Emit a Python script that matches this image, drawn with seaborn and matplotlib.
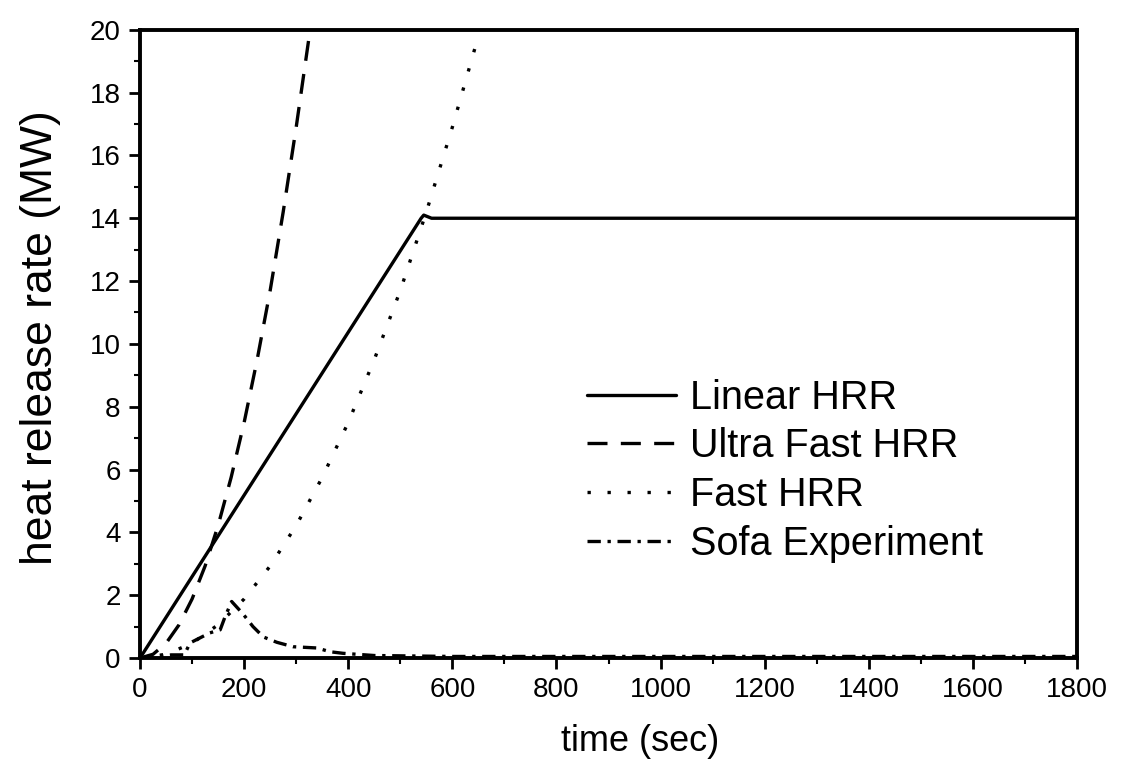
import matplotlib
matplotlib.use("Agg")
import matplotlib.pyplot as plt
import pandas as pd
import seaborn as sns

# values
linear_t = [0, 540, 545, 560, 1800]
linear_q = [0, 14.0, 14.1, 14.0, 14.0]

ultra_t = [0, 25, 50, 75, 100, 125, 150, 175, 200, 225, 250, 275, 300, 325]
ultra_q = [0, 0.12, 0.47, 1.06, 1.88, 2.93, 4.22, 5.75, 7.5, 9.5, 11.7, 14.2, 16.9, 19.8]

fast_t = [0, 50, 100, 150, 200, 250, 300, 350, 400, 450, 500, 550, 600, 650]
fast_q = [0, 0.12, 0.47, 1.06, 1.88, 2.93, 4.22, 5.75, 7.5, 9.5, 11.7, 14.2, 16.9, 19.8]

sofa_t = [0, 30, 60, 85, 96, 115, 134, 154, 163, 176, 198, 217, 237, 263, 294,
          340, 365, 390, 450, 600, 900, 1200, 1500, 1800]
sofa_q = [0, 0.05, 0.1, 0.1, 0.48, 0.64, 0.8, 0.9, 1.3, 1.8, 1.4, 1.0, 0.67, 0.5,
          0.36, 0.32, 0.2, 0.15, 0.08, 0.05, 0.05, 0.05, 0.05, 0.05]

series = [
    ("Linear HRR", linear_t, linear_q, "-"),
    ("Ultra Fast HRR", ultra_t, ultra_q, (0, (6, 4))),
    ("Fast HRR", fast_t, fast_q, (0, (1, 5))),
    ("Sofa Experiment", sofa_t, sofa_q, (0, (4, 2, 1, 2))),
]

sns.set_theme(style="ticks")
plt.rcParams["font.family"] = ["Liberation Sans", "DejaVu Sans"]
plt.rcParams.update({"text.color": "black", "axes.labelcolor": "black",
                     "xtick.color": "black", "ytick.color": "black"})

fig = plt.figure(figsize=(11.33, 7.69), dpi=100)
ax = fig.add_axes([0.1236, 0.1443, 0.827, 0.817])

for name, t, q, ls in series:
    df = pd.DataFrame({"t": t, "q": q})
    sns.lineplot(data=df, x="t", y="q", ax=ax, color="black", linestyle=ls,
                 linewidth=2.4, label=name, sort=False)

ax.set_xlim(0, 1800)
ax.set_ylim(0, 20)
ax.set_xticks(range(0, 1801, 200))
ax.set_yticks(range(0, 21, 2))
ax.set_xticks(range(0, 1801, 100), minor=True)
ax.set_yticks(range(0, 21, 1), minor=True)
ax.tick_params(which="major", direction="out", length=8, width=2, labelsize=20)
ax.tick_params(axis="x", which="major", pad=6)
ax.tick_params(axis="y", which="major", pad=6)
ax.tick_params(which="minor", direction="out", length=4, width=1.5)
for s in ax.spines.values():
    s.set_linewidth(2.8)
    s.set_color("black")

ax.set_xlabel("time (sec)", fontsize=26)
ax.set_ylabel("heat release rate (MW)", fontsize=32)
ax.xaxis.set_label_coords(0.534, -0.105)
ax.yaxis.set_label_coords(-0.084, 0.51)

leg = ax.legend(loc="upper left", bbox_to_anchor=(0.46, 0.47), frameon=False,
                fontsize=28.5, handlelength=2.24, handletextpad=0.37,
                labelspacing=0.27, borderaxespad=0)
for h in leg.get_lines():
    h.set_linewidth(2.4)

fig.savefig("out.png", dpi=100)
